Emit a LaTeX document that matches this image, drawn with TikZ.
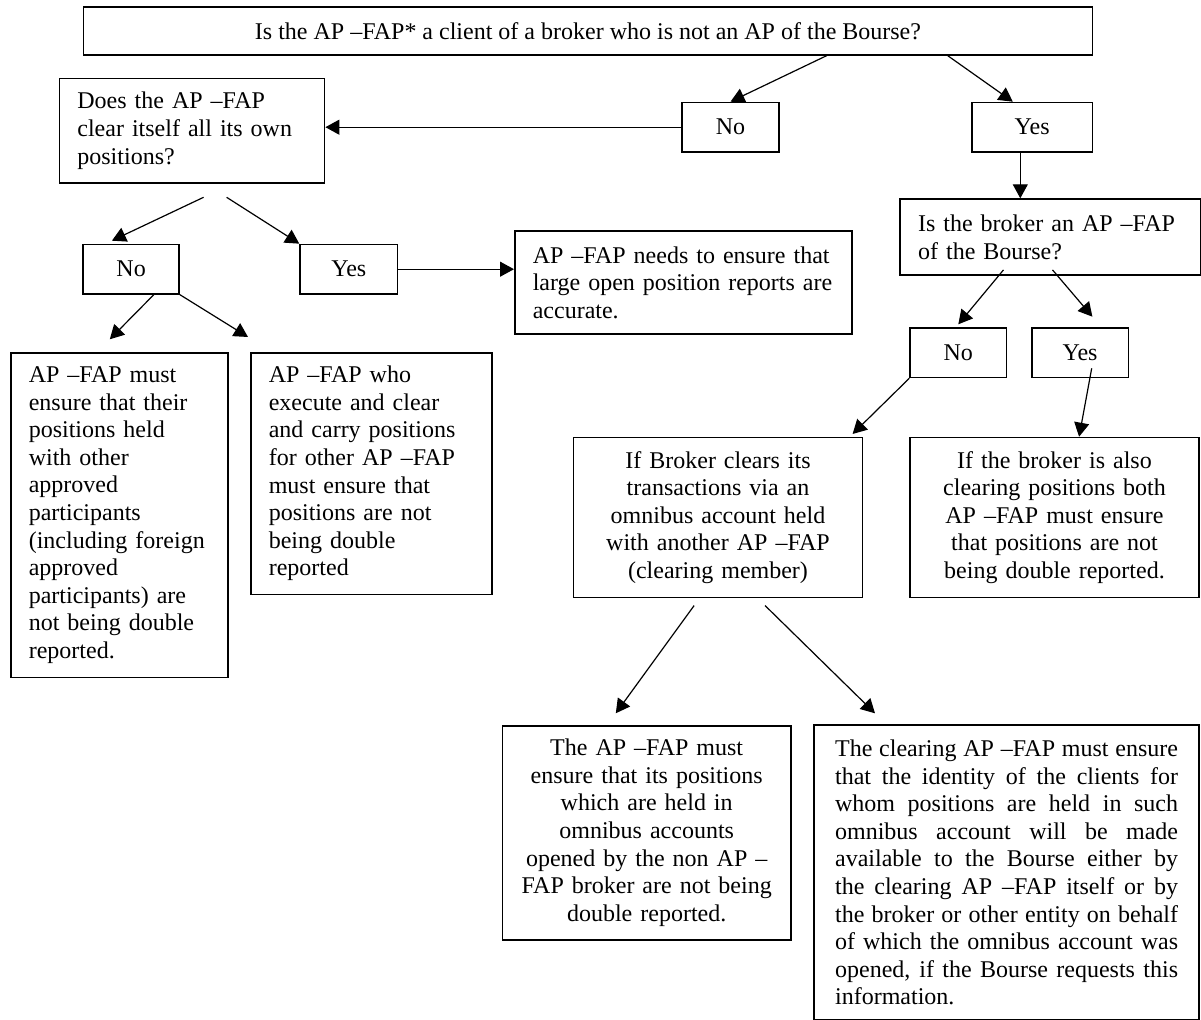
\documentclass[tikz,border=0pt]{standalone}
\usepackage{fontspec}
\setmainfont{Liberation Serif}
\usetikzlibrary{arrows.meta,positioning}

\begin{document}
\begin{tikzpicture}[
  x=0.5pt, y=-0.5pt,
  font=\fontsize{12}{13.8}\selectfont,
  box/.style={draw, line width=0.8pt, anchor=north west, inner ysep=0pt},
  leftbox/.style={box, align=left, inner xsep=9pt},
  midbox/.style={box, align=center, inner xsep=4pt},
  ans/.style={box, minimum width=48.3pt, minimum height=24.7pt, inner sep=0pt},
  arr/.style={-{Triangle[length=7pt,width=7.5pt]}, line width=0.6pt}
]
\useasboundingbox (0,0) rectangle (1201,1020);

\node[box, minimum width=504.5pt, minimum height=24pt] (top) at (82.7,6) {Is the AP –FAP* a client of a broker who is not an AP of the Bourse?};
\node[ans, minimum width=60.4pt] (yesT) at (971,101.7) {Yes};
\node[ans, minimum width=48.5pt, left=95.6pt of yesT] (noT) {No};
\node[leftbox, text width=114.6pt, minimum height=52.3pt] (q2) at (58.6,77.7) {Does the AP –FAP\\clear itself all its own\\positions?};
\node[ans, minimum width=48pt] (noL) at (82.3,243.7) {No};
\node[ans, minimum width=48.7pt, right=59.7pt of noL] (yesL) {Yes};
\node[leftbox, text width=150.5pt, minimum height=51.7pt] (large) at (514,230) {AP –FAP needs to ensure that\\large open position reports are\\accurate.};
\node[leftbox, text width=132.1pt, minimum height=38pt] (brokerQ) at (899.3,198.3) {Is the broker an AP –FAP\\of the Bourse?};
\node[ans, minimum width=48.2pt] (noB) at (909.3,327.3) {No};
\node[ans, minimum width=48.4pt, right=11.8pt of noB] (yesB) {Yes};
\node[leftbox, text width=90.5pt, minimum height=162.4pt] (mustA) at (10,352) {AP –FAP must\\ensure that their\\positions held\\with other\\approved\\participants\\(including foreign\\approved\\participants) are\\not being double\\reported.};
\node[leftbox, text width=102.5pt, minimum height=120.8pt] (mustB) at (250,352) {AP –FAP who\\execute and clear\\and carry positions\\for other AP –FAP\\must ensure that\\positions are not\\being double\\reported};
\node[midbox, text width=136.5pt, minimum height=80pt] (omni) at (572.7,436.7) {If Broker clears its\\transactions via an\\omnibus account held\\with another AP –FAP\\(clearing member)};
\node[midbox, text width=136.4pt, minimum height=80pt] (both) at (909.3,436.7) {If the broker is also\\clearing positions both\\AP –FAP must ensure\\that positions are not\\being double reported.};
\node[midbox, text width=136.2pt, minimum height=107pt] (nonap) at (501.7,725) {The AP –FAP must\\ensure that its positions\\which are held in\\omnibus accounts\\opened by the non AP –\\FAP broker are not being\\double reported.};
\node[box, align=justify, inner xsep=10.5pt, text width=171.5pt, minimum height=147.4pt] (clearing) at (813.3,724.3) {\tolerance=10000 \hbadness=10000 \hyphenpenalty=10000
  The clearing AP –FAP must ensure\linebreak that the identity of the clients for\linebreak whom positions are held in such\linebreak omnibus account will be made\linebreak available to the Bourse either by\linebreak the clearing AP –FAP itself or by\linebreak the broker or other entity on behalf\linebreak of which the omnibus account was\linebreak opened, if the Bourse requests this\linebreak information.};

\draw[arr] ([xshift=119.4pt]top.south) -- (noT.north);
\draw[arr] ([xshift=179.8pt]top.south) -- ([xshift=-9.7pt]yesT.north);
\draw[arr] (noT.west) -- (noT.west -| q2.east);
\draw[arr] ([xshift=-5.95pt]yesT.south) -- ([xshift=-5.95pt]yesT.south |- brokerQ.north);
\draw[arr] ([xshift=5.8pt,yshift=-6.7pt]q2.south) -- ([xshift=-9.6pt,yshift=1.5pt]noL.north);
\draw[arr] ([xshift=17.3pt,yshift=-6.7pt]q2.south) -- (yesL.north west);
\draw[arr] (yesL.east) -- (yesL.east -| large.west);
\draw[arr] ([xshift=11.35pt]noL.south) -- ([xshift=-4.75pt,yshift=6.35pt]mustA.north);
\draw[arr] (noL.south east) -- ([xshift=-1pt,yshift=7.5pt]mustB.north west);
\draw[arr] ([xshift=-23.35pt,yshift=3pt]brokerQ.south) -- ([yshift=1.5pt]noB.north);
\draw[arr] ([xshift=1.15pt,yshift=3pt]brokerQ.south) -- ([xshift=6.15pt,yshift=5.3pt]yesB.north);
\draw[arr] (noB.south west) -- ([xshift=-5.35pt,yshift=1.35pt]omni.north east);
\draw[arr] ([xshift=5.8pt,yshift=5pt]yesB.south) -- ([xshift=12.3pt]both.north);
\draw[arr] ([xshift=-11.95pt,yshift=-3.65pt]omni.south) -- ([xshift=-15.45pt,yshift=5.85pt]nonap.north);
\draw[arr] ([xshift=23.55pt,yshift=-3.65pt]omni.south) -- ([xshift=30.85pt,yshift=5.5pt]clearing.north west);
\end{tikzpicture}
\end{document}
